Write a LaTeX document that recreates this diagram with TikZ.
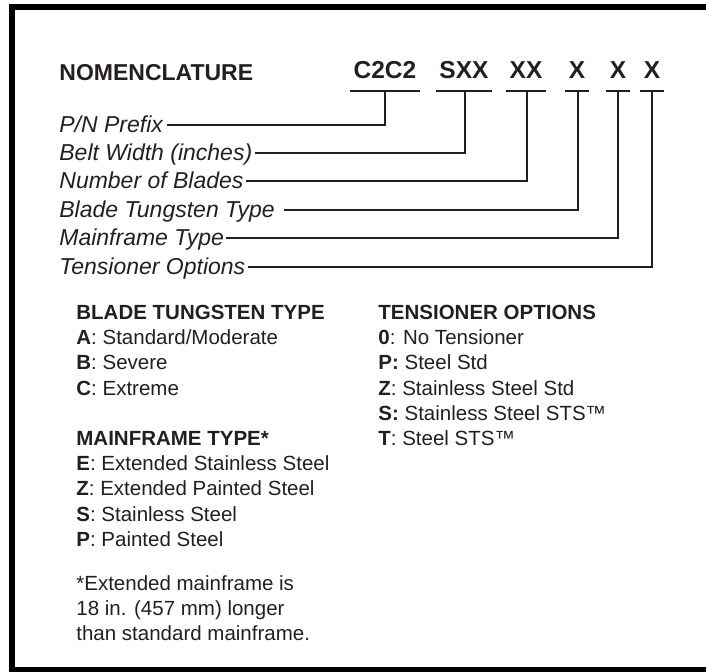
\documentclass[tikz,border=0pt]{standalone}
\usepackage{fontspec}
\setmainfont{Liberation Sans}
\usetikzlibrary{calc}
\definecolor{Ink}{HTML}{231F20}
\tikzset{
  code/.style={font=\fontsize{12.25}{14}\selectfont\bfseries, inner ysep=0pt, inner xsep=1.5pt, anchor=base, text=Ink},
  lbl/.style={font=\fontsize{11.5}{13}\selectfont\itshape, inner sep=0pt, anchor=base west, text=Ink},
  item/.style={font=\fontsize{10.25}{12}\selectfont, inner sep=0pt, anchor=base west, text=Ink},
  head/.style={item, font=\fontsize{10.25}{12}\selectfont\bfseries},
  lead/.style={draw=Ink, line width=1pt}
}

\begin{document}
\begin{tikzpicture}[x=0.5pt,y=-0.5pt]
  \useasboundingbox (0,0) rectangle (706,671);
  % frame, open to the right
  \begin{scope}
    \clip (0,0) rectangle (706,671);
    \draw[line width=3pt] (12,7) rectangle (740,670);
  \end{scope}

  % title and part number
  \node[lbl, font=\fontsize{11.5}{13}\selectfont\bfseries] (title) at (59,80) {NOMENCLATURE};
  \node[code] (c1) at (385,78) {C2C2};
  \node[code] (c2) at (464,78) {SXX};
  \node[code] (c3) at (526,78) {XX};
  \node[code] (c4) at (577,78) {X};
  \node[code] (c5) at (618,78) {X};
  \node[code] (c6) at (652,78) {X};
  \coordinate (s1) at (385,91);
  \coordinate (s2) at (465,91);
  \coordinate (s3) at (527,91);
  \coordinate (s4) at (578,91);
  \coordinate (s5) at (618,91);
  \coordinate (s6) at (652,91);
  \foreach \i in {1,...,6}
    \draw[lead] (c\i.west |- s\i) -- (c\i.east |- s\i);

  % field labels
  \node[lbl] (l1) at (59,132) {P/N Prefix};
  \node[lbl] (l2) at (59,160) {Belt Width (inches)};
  \node[lbl] (l3) at (59,188) {Number of Blades};
  \node[lbl] (l4) at (59,217) {Blade Tungsten Type};
  \node[lbl] (l5) at (59,245) {Mainframe Type};
  \node[lbl] (l6) at (59,274) {Tensioner Options};
  \foreach \i/\g in {1/4,2/2,3/2,4/9,5/2,6/2}
    \draw[lead] ($(l\i.base east)+(\g,-7)$) -| (s\i);

  % blade tungsten type
  \node[head] (hBlade) at (76,319) {BLADE TUNGSTEN TYPE};
  \node[item] (bA) at (76,344) {\textbf{A}: Standard/Moderate};
  \node[item] (bB) at (76,369.5) {\textbf{B}: Severe};
  \node[item] (bC) at (76,395) {\textbf{C}: Extreme};

  % mainframe type
  \node[head] (hMain) at (76,445) {MAINFRAME TYPE*};
  \node[item] (mE) at (76,470) {\textbf{E}: Extended Stainless Steel};
  \node[item] (mZ) at (76,495.5) {\textbf{Z}: Extended Painted Steel};
  \node[item] (mS) at (76,521) {\textbf{S}: Stainless Steel};
  \node[item] (mP) at (76,546.5) {\textbf{P}: Painted Steel};
  \node[item] (f1) at (76,590) {*Extended mainframe is};
  \node[item] (f2) at (76,615) {18 in. (457 mm) longer};
  \node[item] (f3) at (76,640) {than standard mainframe.};

  % tensioner options
  \node[head] (hTens) at (378,319) {TENSIONER OPTIONS};
  \node[item] (t0) at (378,344) {\textbf{0}: No Tensioner};
  \node[item] (tP) at (378,369.5) {\textbf{P:} Steel Std};
  \node[item] (tZ) at (378,395) {\textbf{Z}: Stainless Steel Std};
  \node[item] (tS) at (378,420) {\textbf{S:} Stainless Steel STS™};
  \node[item] (tT) at (378,445) {\textbf{T}: Steel STS™};
\end{tikzpicture}
\end{document}
